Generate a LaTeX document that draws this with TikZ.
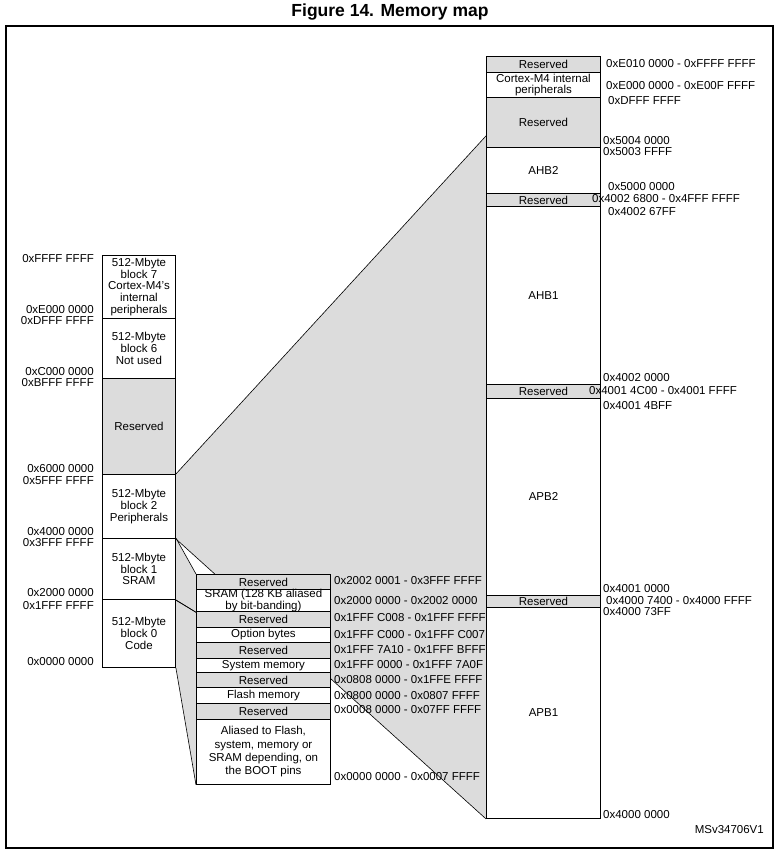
\documentclass[tikz,border=0pt]{standalone}
\usepackage{fontspec}
\setmainfont{Liberation Sans}
\usetikzlibrary{calc,backgrounds}
\definecolor{gris}{HTML}{DCDCDC}
\tikzset{
	celda/.style={draw, line width=0.9pt, inner sep=0pt, anchor=north west, align=center, font=\fontsize{11.5}{11.8}\selectfont},
	blanca/.style={celda, fill=white},
	reservada/.style={celda, fill=gris},
	estrecha/.style={blanca, font=\fontsize{11.5}{10.5}\selectfont},
	ancha/.style={blanca, font=\fontsize{11.5}{13.3}\selectfont},
	dir/.style={inner sep=0pt, font=\fontsize{11.5}{13}\selectfont},
	abanico/.style={fill=gris},
	borde/.style={line width=0.6pt}
}
\begin{document}
\begin{tikzpicture}[x=1pt,y=-1pt]
	\useasboundingbox (0,0) rectangle (780,857);
	\node (titulo) at (390,12) {\fontsize{17.5}{20}\selectfont\bfseries Figure 14. Memory map};
	\draw[line width=1.3pt] (6,26) rectangle (773,848);
	
	% Columna izquierda: bloques de 512 MB
	\foreach \nm/\y/\h/\st/\txt in {
		b7/255/63/blanca/{512-Mbyte\\block 7\\Cortex-M4's\\internal\\peripherals},
		b6/318/60/blanca/{512-Mbyte\\block 6\\Not used},
		bres/378/96/reservada/Reserved,
		b2/474/64/blanca/{512-Mbyte\\block 2\\Peripherals},
		b1/538/61/blanca/{512-Mbyte\\block 1\\SRAM},
		b0/599/68/blanca/{512-Mbyte\\block 0\\Code}}
		\node[\st, minimum width=73, minimum height=\h] (\nm) at (102,\y) {\txt};
	
	% Columna derecha: periféricos
	\foreach \nm/\y/\h/\st/\txt in {
		r1/56/16/reservada/Reserved,
		rcm/72/25/estrecha/{Cortex-M4 internal\\peripherals},
		r2/97/50/reservada/Reserved,
		ahb2/147/46/blanca/AHB2,
		r3/193/13/reservada/Reserved,
		ahb1/206/178/blanca/AHB1,
		r4/384/14/reservada/Reserved,
		apb2/398/197/blanca/APB2,
		r5/595/12/reservada/Reserved,
		apb1/607/211/blanca/APB1}
		\node[\st, minimum width=114, minimum height=\h] (\nm) at (486,\y) {\txt};
	
	% Columna central: código y SRAM
	\foreach \nm/\y/\h/\st/\txt in {
		m1/574/15/reservada/Reserved,
		msram/589/22/estrecha/{SRAM (128 KB aliased\\by bit-banding)},
		m2/611/16/reservada/Reserved,
		mopt/627/15/blanca/Option bytes,
		m3/642/16/reservada/Reserved,
		msys/658/14/blanca/System memory,
		m4/672/15/reservada/Reserved,
		mflash/687/16/blanca/Flash memory,
		m5/703/16/reservada/Reserved,
		malias/719/65/ancha/{Aliased to Flash,\\system, memory or\\SRAM depending, on\\the BOOT pins}}
		\node[\st, minimum width=134, minimum height=\h] (\nm) at (196,\y) {\txt};
	
	\begin{scope}[on background layer]
		\coordinate (abTop) at ($(r2.south west)+(0,-12)$);
		\fill[abanico] (b2.north east) -- (abTop) -- (apb1.south west) -- (b2.south east) -- cycle;
		\fill[abanico] (b1.north east) -- (m1.north west) -- (msram.south west) -- (b1.south east) -- cycle;
		\fill[abanico] (b0.north east) -- (m2.north west) -- (malias.south west) -- (b0.south east) -- cycle;
		\draw[borde] (b2.north east) -- (abTop);
		\draw[borde] (b2.south east) -- (apb1.south west);
		\draw[borde] (b1.north east) -- (m1.north west);
		\draw[borde] (b1.south east) -- (msram.south west);
		\draw[borde] ($(b0.north east)+(0,1.2)$) -- ($(m2.north west)+(0,1.2)$);
		\draw[borde] (b0.south east) -- (malias.south west);
	\end{scope}
	
	\foreach \y/\txt [count=\i] in {259/0xFFFF FFFF, 310/0xE000 0000, 321/0xDFFF FFFF,
		372/0xC000 0000, 383/0xBFFF FFFF, 469/0x6000 0000, 481/0x5FFF FFFF,
		532/0x4000 0000, 543/0x3FFF FFFF, 593/0x2000 0000, 606/0x1FFF FFFF, 662/0x0000 0000}
		\node[dir, anchor=east] (dl\i) at (94,\y) {\txt};
	
	\foreach \y/\txt [count=\i] in {581/0x2002 0001 - 0x3FFF FFFF, 601/0x2000 0000 - 0x2002 0000,
		618/0x1FFF C008 - 0x1FFF FFFF, 635/0x1FFF C000 - 0x1FFF C007,
		650/0x1FFF 7A10 - 0x1FFF BFFF, 665/0x1FFF 0000 - 0x1FFF 7A0F,
		680/0x0808 0000 - 0x1FFE FFFF, 696/0x0800 0000 - 0x0807 FFFF,
		710/0x0008 0000 - 0x07FF FFFF, 777/0x0000 0000 - 0x0007 FFFF}
		\node[dir, anchor=west] (dm\i) at (334,\y) {\txt};
	
	\foreach \x/\y/\txt [count=\i] in {606/64/0xE010 0000 - 0xFFFF FFFF, 606/86/0xE000 0000 - 0xE00F FFFF,
		608/101/0xDFFF FFFF, 603/141/0x5004 0000, 603/152/0x5003 FFFF, 608/187/0x5000 0000,
		592/199/0x4002 6800 - 0x4FFF FFFF, 608/212/0x4002 67FF, 603/378/0x4002 0000,
		589/391/0x4001 4C00 - 0x4001 FFFF, 603/406/0x4001 4BFF, 603/589/0x4001 0000,
		606/601/0x4000 7400 - 0x4000 FFFF, 603/612/0x4000 73FF, 603/815/0x4000 0000}
		\node[dir, anchor=west] (dr\i) at (\x,\y) {\txt};
	
	\node[dir, anchor=east] (ref) at (764,830) {MSv34706V1};
\end{tikzpicture}
\end{document}
